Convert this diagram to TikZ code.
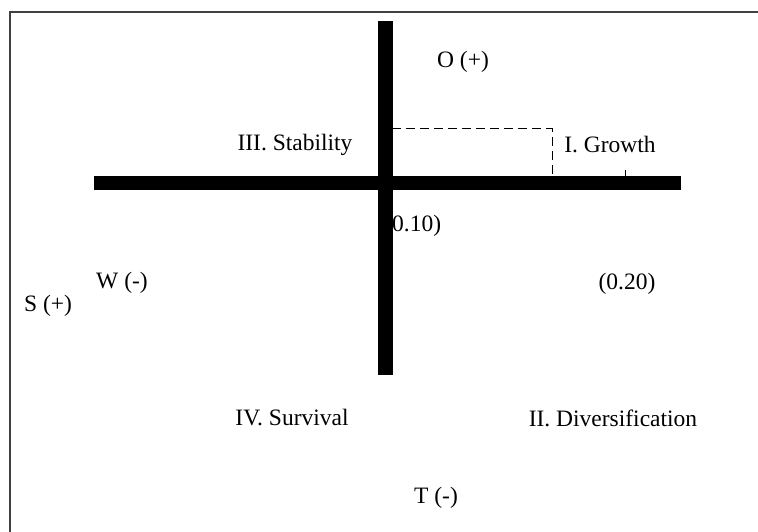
\documentclass[tikz,border=0pt]{standalone}
\usepackage{fontspec}
\setmainfont{Liberation Serif}
\usepackage{tikz}
\usetikzlibrary{positioning}
\tikzset{
  quadlabel/.style={
    inner sep=0pt, font=\fontsize{23.5}{27}\selectfont, text=black
  },
  axisbar/.style={fill=black, draw=none},
  framebox/.style={draw=black!75, line width=1.4pt},
  guideline/.style={draw=black, line width=1pt, dash pattern=on 9pt off 5pt}
}

\begin{document}
\begin{tikzpicture}[x=1pt, y=-1pt]
\useasboundingbox (0,0) rectangle (758,532);
\draw[framebox] (10,540) -- (10,12) -- (766,12);

% dashed guide and tick
\coordinate (gA) at (392,129);
\coordinate (gB) at (552,129);
\coordinate (gC) at (552,176);
\draw[guideline] (gA) -- (gB) -- (gC);
\coordinate (tickA) at (625,176);
\coordinate (tickB) at (625,170);
\draw[line width=1pt] (tickA) -- (tickB);

% labels
\node[quadlabel] (opp) at (463,62) {O (+)};
\node[quadlabel] (stab) at (295,145) {III. Stability};
\node[quadlabel] (grow) at (610,145) {I. Growth};
\node[quadlabel, anchor=west] (xval) at (392,226) {0.10)};
\node[quadlabel] (weak) at (122,283) {W (-)};
\node[quadlabel] (yval) at (627,284) {(0.20)};
\node[quadlabel] (str) at (48,306) {S (+)};
\node[quadlabel] (surv) at (292,418) {IV. Survival};
\node[quadlabel] (div) at (613,418) {II. Diversification};
\node[quadlabel] (thr) at (436,498) {T (-)};

% axes
\fill[axisbar] (94,176) rectangle (681,190);
\fill[axisbar] (378,21) rectangle (393,375);
\end{tikzpicture}
\end{document}
